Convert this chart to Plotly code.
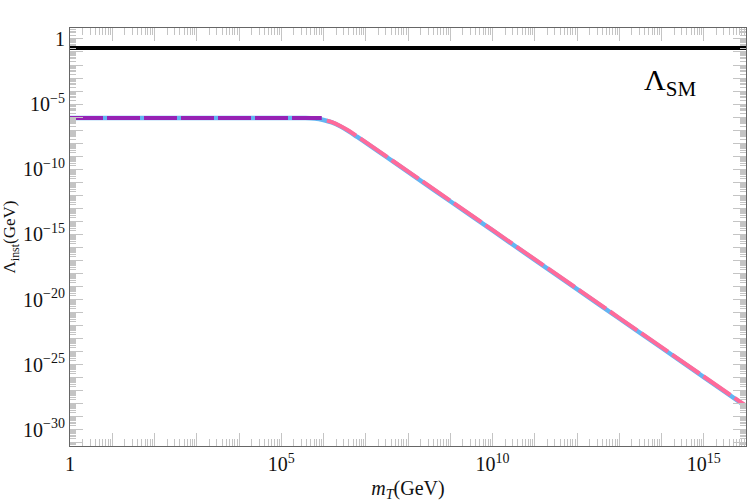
import plotly.graph_objects as go

# full curve (solid blue)
m_full = [1, 1e5, 3.16e5, 6.31e5, 1e6, 1.58e6, 2.51e6, 3.98e6, 6.31e6, 1e7,
          3.16e7, 1e8, 1e9, 1e10, 1e11, 1e12, 1e13, 1e14, 1e15, 1e16]
lam_full = [8.7e-7, 8.7e-7, 8.5e-7, 7.8e-7, 6.0e-7, 3.9e-7, 1.95e-7, 8.1e-8, 3.0e-8, 1.1e-8,
            8.3e-10, 6.3e-11, 3.5e-13, 2.0e-15, 1.1e-17, 6.3e-20, 3.5e-22, 2.0e-24, 1.1e-26, 6.3e-29]

# low-mass approximation (purple dashed)
m_low = [1, 9.1e5]
lam_low = [8.7e-7, 8.7e-7]

# high-mass approximation (pink dashed)
m_high = [1.2e6, 1.58e6, 2.51e6, 3.98e6, 6.31e6, 1e7, 3.16e7, 1e8, 1e10, 1e12, 1e14, 1e16]
lam_high = [5.4e-7, 4.2e-7, 2.1e-7, 8.9e-8, 3.3e-8, 1.2e-8, 9.1e-10, 6.9e-11, 2.2e-15, 7.0e-20,
            2.2e-24, 7.0e-29]

lam_sm = 0.2
m_span = [1, 1e16]

x_major = [10**k for k in range(0, 17)]
x_labels = {0: "1", 5: "10<sup>5</sup>", 10: "10<sup>10</sup>", 15: "10<sup>15</sup>"}
y_major = [10**k for k in range(-31, 1)]
y_labels = {0: "1", -5: "10<sup>−5</sup>", -10: "10<sup>−10</sup>", -15: "10<sup>−15</sup>",
            -20: "10<sup>−20</sup>", -25: "10<sup>−25</sup>", -30: "10<sup>−30</sup>"}

fig = go.Figure()

fig.add_trace(go.Scatter(x=m_full, y=lam_full, mode="lines",
                         line=dict(color="#63b4f2", width=4.5), line_shape="spline"))
fig.add_trace(go.Scatter(x=m_low, y=lam_low, mode="lines",
                         line=dict(color="#9622b4", width=4, dash="33px,4px")))
fig.add_trace(go.Scatter(x=m_high, y=lam_high, mode="lines",
                         line=dict(color="#ff6a9a", width=4, dash="33px,5px"), line_shape="spline"))
fig.add_trace(go.Scatter(x=m_span, y=[lam_sm, lam_sm], mode="lines",
                         line=dict(color="black", width=4)))

fig.add_annotation(text="Λ<sub>SM</sub>", xref="paper", yref="paper", x=0.888, y=0.871,
                   xanchor="center", yanchor="middle",
                   showarrow=False, font=dict(size=30, color="black", family="Liberation Serif"))

tick_font = dict(family="Liberation Serif", size=20, color="#111")

fig.update_xaxes(
    type="log", range=[0, 16], automargin=False,
    tickmode="array", tickvals=x_major,
    ticktext=[x_labels.get(k, "") for k in range(0, 17)],
    ticks="inside", ticklen=13, tickcolor="#c4c4c4", tickwidth=1,
    minor=dict(tickmode="array",
               tickvals=[j * 10**k for k in range(0, 16) for j in range(2, 10)],
               ticks="inside", ticklen=7, tickcolor="#c4c4c4", tickwidth=1),
    showline=True, linecolor="#666", linewidth=1, mirror="allticks",
    showgrid=False, zeroline=False, tickfont=tick_font,
    title=dict(text="<i>m</i><sub><i>T</i></sub>(GeV)",
               font=dict(family="Liberation Serif", size=20, color="#111"), standoff=6),
)
fig.update_yaxes(
    type="log", range=[-31.24, 0.84], automargin=False,
    tickmode="array", tickvals=y_major,
    ticktext=[y_labels.get(k, "") for k in range(-31, 1)],
    ticks="inside", ticklen=13, tickcolor="#c4c4c4", tickwidth=1,
    minor=dict(tickmode="array",
               tickvals=[j * 10**k for k in range(-32, 1) for j in range(2, 10)],
               ticks="inside", ticklen=6, tickcolor="#c4c4c4", tickwidth=1),
    showline=True, linecolor="#666", linewidth=1, mirror="allticks",
    showgrid=False, zeroline=False, tickfont=tick_font,
    title=dict(text="Λ<sub>inst</sub>(GeV)",
               font=dict(family="Liberation Serif", size=17, color="#111"), standoff=6),
)

fig.update_layout(
    width=747, height=504,
    margin=dict(l=70, r=1, t=28, b=58),
    paper_bgcolor="white", plot_bgcolor="white",
    showlegend=False,
)

fig.write_html("out.html", config={"displayModeBar": False},
               post_script="document.body.style.margin='0';")
